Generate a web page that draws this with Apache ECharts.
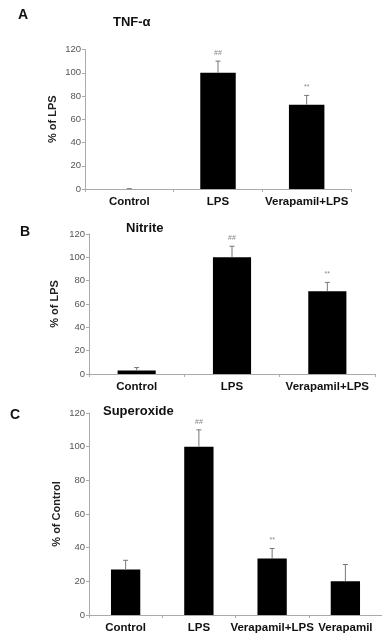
<!DOCTYPE html>
<html>
<head>
    <meta charset="utf-8">
    <script type="text/javascript" src="https://cdn.jsdelivr.net/npm/echarts@6/dist/echarts.min.js"></script>
    <title>charts</title>
    <style>
        html, body { margin: 0; padding: 0; background: #fff; }
    </style>
</head>
<body>
<div id="main" style="width: 382px;height:637px;"></div>
<script type="text/javascript">

    // categories
    var catsAB = ['Control', 'LPS', 'Verapamil+LPS'];
    var catsC = ['Control', 'LPS', 'Verapamil+LPS', 'Verapamil'];

    // A: TNF-a (% of LPS)
    var tnfMean = [0, 100, 72.5];
    var tnfErr = [0.3, 10, 8];
    var tnfMark = ['', '##', '**'];

    // B: Nitrite (% of LPS)
    var nitMean = [3, 100, 71];
    var nitErr = [2.5, 9.5, 7.5];
    var nitMark = ['', '##', '**'];

    // C: Superoxide (% of Control)
    var supMean = [27, 100, 33.5, 20];
    var supErr = [5.5, 10, 6, 10];
    var supMark = ['', '##', '**', ''];

    var FONT = 'Liberation Sans, Arial, sans-serif';

    var myChart = echarts.init(document.getElementById('main'));

    function errorBars(means, errs, marks) {
        return function (params, api) {
            var i = params.dataIndex;
            var base = api.coord([i, means[i]]);
            var top = api.coord([i, means[i] + errs[i]]);
            var children = [];
            if (errs[i] > 0) {
                children.push({
                    type: 'line',
                    shape: { x1: base[0], y1: base[1], x2: top[0], y2: top[1] },
                    style: { stroke: '#777', lineWidth: 1 }
                });
                children.push({
                    type: 'line',
                    shape: { x1: top[0] - 2.5, y1: top[1], x2: top[0] + 2.5, y2: top[1] },
                    style: { stroke: '#777', lineWidth: 1 }
                });
            }
            if (marks[i]) {
                children.push({
                    type: 'text',
                    style: {
                        x: top[0], y: top[1] - 8,
                        text: marks[i],
                        align: 'center', verticalAlign: 'middle',
                        fill: '#888', font: '7px ' + FONT
                    }
                });
            }
            return { type: 'group', children: children };
        };
    }

    function xAxisFor(idx, cats) {
        return {
            type: 'category',
            gridIndex: idx,
            data: cats,
            axisLine: { lineStyle: { color: '#aaa', width: 1 } },
            axisTick: { show: true, length: 3, lineStyle: { color: '#aaa' } },
            axisLabel: { color: '#111', fontWeight: 'bold', fontSize: 11.5, fontFamily: FONT, margin: 7, interval: 0 },
            splitLine: { show: false }
        };
    }

    function yAxisFor(idx, name, gap) {
        return {
            type: 'value',
            gridIndex: idx,
            min: 0, max: 120, interval: 20,
            name: name,
            nameLocation: 'middle',
            nameRotate: 90,
            nameGap: gap,
            nameMoveOverlap: false,
            nameTextStyle: { color: '#222', fontWeight: 'bold', fontSize: 11, fontFamily: FONT },
            axisLine: { show: true, lineStyle: { color: '#aaa', width: 1 } },
            axisTick: { show: true, length: 3, lineStyle: { color: '#aaa' } },
            axisLabel: { color: '#555', fontSize: 9.5, fontFamily: FONT, margin: 4 },
            splitLine: { show: false }
        };
    }

    function barSeries(idx, data) {
        return {
            type: 'bar',
            xAxisIndex: idx, yAxisIndex: idx,
            data: data,
            barWidth: '40%',
            itemStyle: { color: '#000' },
            silent: true,
            animation: false
        };
    }

    function errSeries(idx, means, errs, marks) {
        return {
            type: 'custom',
            xAxisIndex: idx, yAxisIndex: idx,
            data: means.map(function (m, i) { return [i, m + errs[i]]; }),
            renderItem: errorBars(means, errs, marks),
            z: 5,
            silent: true,
            animation: false
        };
    }

    function label(text, x, y, size) {
        return {
            type: 'text',
            left: x, top: y,
            style: { text: text, fill: '#111', font: 'bold ' + size + 'px ' + FONT }
        };
    }

    var option = {
        animation: false,
        grid: [
            { left: 85, top: 49.5, width: 266, height: 139.5 },
            { left: 89, top: 234, width: 286, height: 140 },
            { left: 89, top: 413, width: 296, height: 202 }
        ],
        xAxis: [xAxisFor(0, catsAB), xAxisFor(1, catsAB), xAxisFor(2, catsC)],
        yAxis: [yAxisFor(0, '% of LPS', 26.5), yAxisFor(1, '% of LPS', 28.5), yAxisFor(2, '% of Control', 26.5)],
        graphic: [
            label('A', 18, 8, 14),
            label('TNF-\u03b1', 113, 16, 13),
            label('B', 20, 225, 14),
            label('Nitrite', 126, 222, 13),
            label('C', 10, 408, 14),
            label('Superoxide', 103, 405, 13)
        ],
        series: [
            barSeries(0, tnfMean), errSeries(0, tnfMean, tnfErr, tnfMark),
            barSeries(1, nitMean), errSeries(1, nitMean, nitErr, nitMark),
            barSeries(2, supMean), errSeries(2, supMean, supErr, supMark)
        ]
    };
    myChart.setOption(option);

</script>
</body>
</html>
